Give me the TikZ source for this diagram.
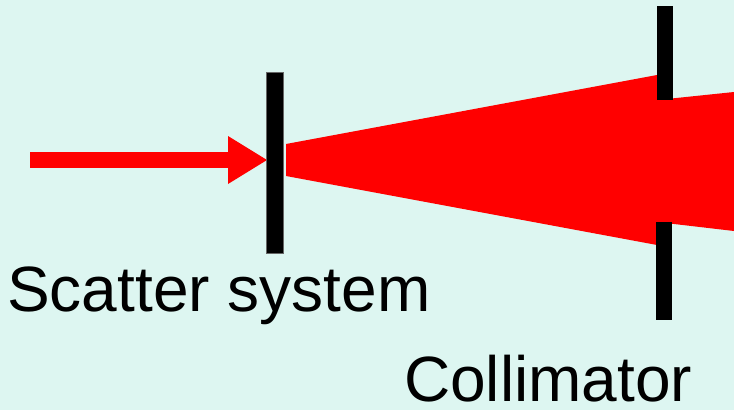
\documentclass[tikz,border=0pt]{standalone}
\usepackage{fontspec}
\setmainfont{Liberation Sans}
\usepackage{xcolor}
\usetikzlibrary{positioning}
\definecolor{bgcyan}{RGB}{221,246,241}
\definecolor{beamred}{RGB}{255,0,0}

\begin{document}
\begin{tikzpicture}[x=1pt,y=-1pt,
    beam/.style={fill=beamred,draw=none},
    plate/.style={fill=black,draw=black!60,line width=0.6pt},
    lbl/.style={inner sep=0pt,anchor=base west,font=\fontsize{64}{72}\selectfont}
  ]
  % background
  \fill[bgcyan] (0,0) rectangle (734,410);
  \useasboundingbox (0,0) rectangle (734,410);

  % incoming beam
  \fill[beam] (30,152) rectangle (228,168);
  \fill[beam] (228,136) -- (267,160) -- (228,184) -- cycle;

  % scattered cone
  \fill[beam] (286,144) -- (657,75) -- (657,245) -- (286,176) -- cycle;
  \fill[beam] (657,100) -- (734,92) -- (734,231) -- (657,222) -- cycle;

  % scatter foil
  \draw[plate] (266,72) rectangle (283,253);

  % collimator jaws
  \fill[black] (657,6) rectangle (673,100);
  \fill[black] (656,222) rectangle (672,320);

  % labels
  \node[lbl] (scatter) at (7,311) {Scatter system};
  \node[lbl] (collim) at (404,401) {Collimator};
\end{tikzpicture}
\end{document}
